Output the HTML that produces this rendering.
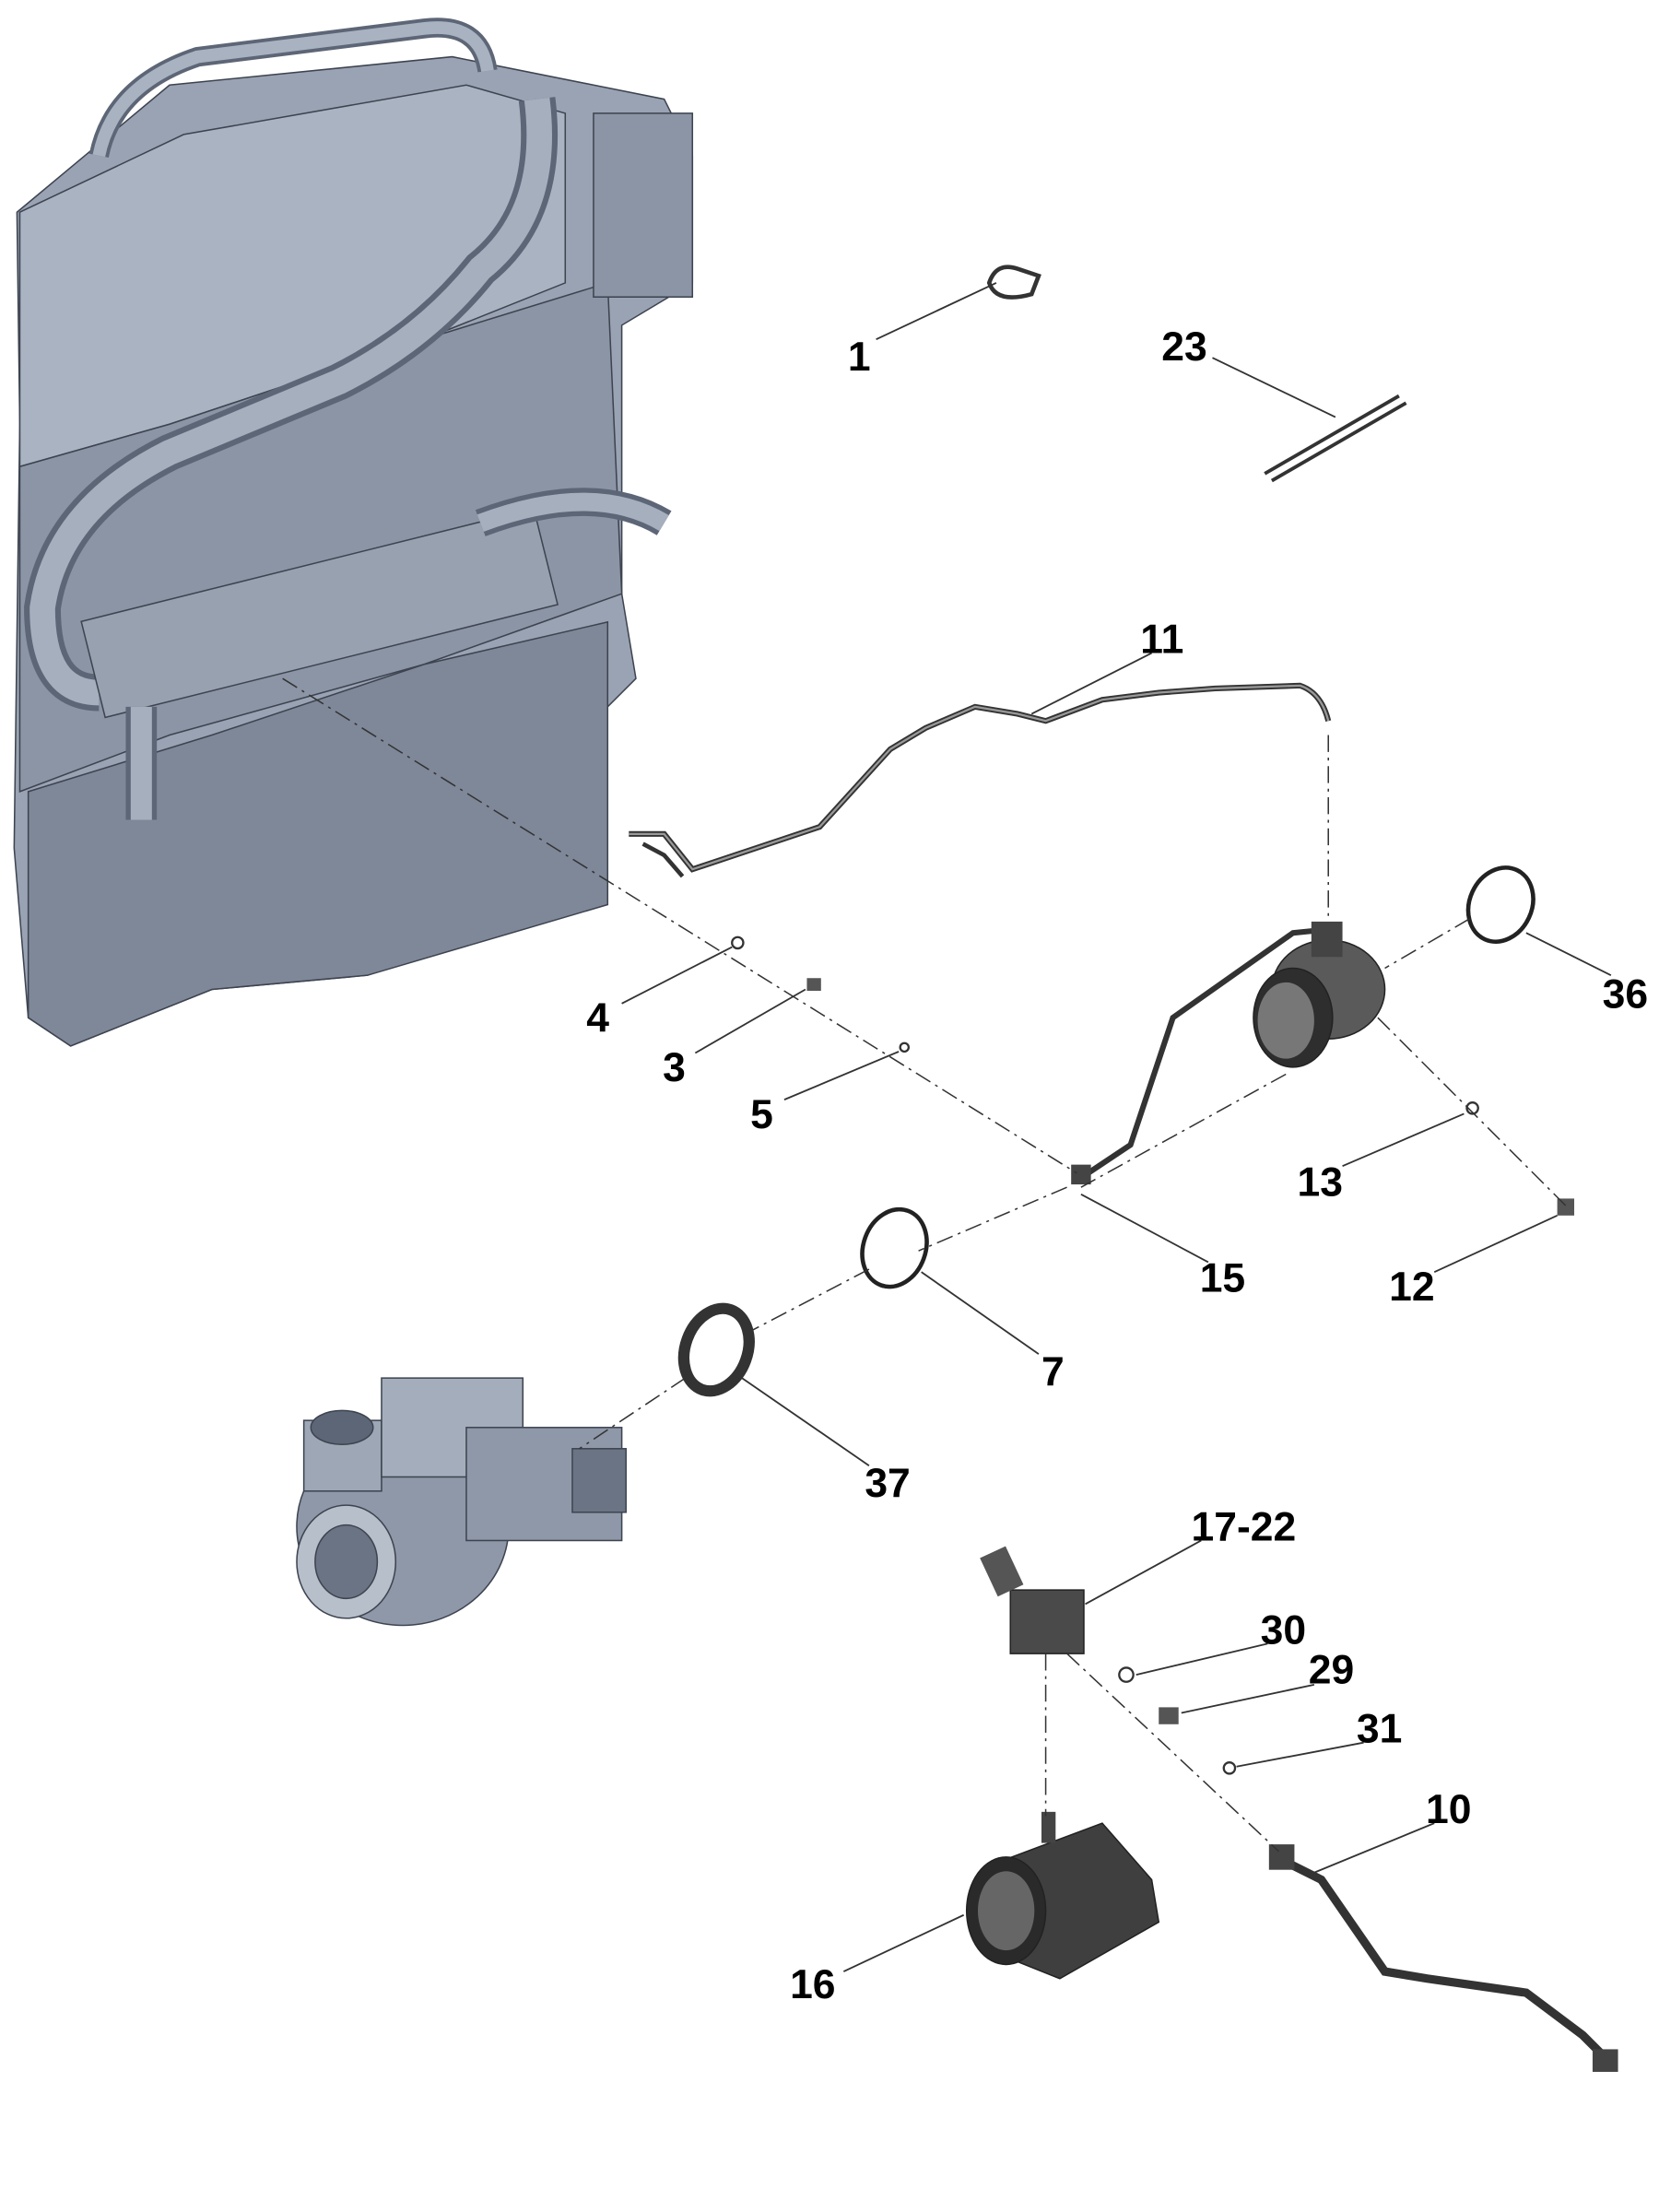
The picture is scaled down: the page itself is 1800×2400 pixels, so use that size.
<!DOCTYPE html>
<html><head><meta charset="utf-8"><style>
html,body{margin:0;padding:0;background:#fff}
svg{display:block}
text{font-family:"Liberation Sans",sans-serif;font-weight:bold;font-size:29px;fill:#000}
</style></head><body>
<svg width="1800" height="2400" viewBox="0 0 1174 1565" xmlns="http://www.w3.org/2000/svg">
<!-- engine block -->
<g stroke="#3d4450" stroke-width="1">
<polygon points="12,150 60,110 120,60 320,40 420,60 470,70 490,110 490,200 440,230 440,420 450,480 430,500 420,640 380,650 260,690 150,700 50,740 20,720 10,600 14,300" fill="#9aa3b3"/>
<polygon points="14,150 130,95 330,60 400,80 400,200 300,240 120,300 14,330" fill="#aab3c2"/>
<polygon points="14,330 120,300 300,240 430,200 440,420 300,470 120,520 14,560" fill="#8c95a6"/>
<polygon points="20,560 150,520 300,470 430,440 430,640 260,690 150,700 50,740 20,720" fill="#7f8899"/>
<path d="M70,110 Q80,60 140,40 L300,20 Q340,15 345,50" fill="none" stroke="#5d6676" stroke-width="14"/>
<path d="M70,110 Q80,60 140,40 L300,20 Q340,15 345,50" fill="none" stroke="#a9b2c0" stroke-width="9"/>
<path d="M380,70 Q390,150 340,190 Q300,240 240,270 L120,320 Q40,360 30,430 Q30,490 70,490" fill="none" stroke="#5d6676" stroke-width="26"/>
<path d="M380,70 Q390,150 340,190 Q300,240 240,270 L120,320 Q40,360 30,430 Q30,490 70,490" fill="none" stroke="#a6afbe" stroke-width="18"/>
<rect x="60" y="400" width="330" height="70" fill="#98a1b0" transform="rotate(-14 220 430)"/>
<path d="M340,370 Q420,340 470,370" fill="none" stroke="#5d6676" stroke-width="20"/>
<path d="M340,370 Q420,340 470,370" fill="none" stroke="#a6afbe" stroke-width="13"/>
<path d="M100,500 L100,580" stroke="#5d6676" stroke-width="22"/>
<path d="M100,500 L100,580" stroke="#a6afbe" stroke-width="15"/>
<rect x="420" y="80" width="70" height="130" fill="#8c95a6"/>
</g>
<!-- turbo -->
<g stroke="#3d4450" stroke-width="1">
<ellipse cx="285" cy="1080" rx="75" ry="70" fill="#8f98a8"/>
<ellipse cx="245" cy="1105" rx="35" ry="40" fill="#b7bfcb"/>
<ellipse cx="245" cy="1105" rx="22" ry="26" fill="#6b7484"/>
<rect x="215" y="1005" width="55" height="50" fill="#9ea7b6"/>
<ellipse cx="242" cy="1010" rx="22" ry="12" fill="#5d6676"/>
<rect x="270" y="975" width="100" height="70" fill="#a4adbb"/>
<rect x="330" y="1010" width="110" height="80" fill="#8f98a8"/>
<rect x="405" y="1025" width="38" height="45" fill="#6b7484"/>
</g>
<!-- part 1 -->
<path d="M700,200 Q705,185 720,190 L735,195 L730,208 Q705,215 700,200Z" fill="none" stroke="#333" stroke-width="3"/>
<!-- 23 -->
<path d="M895,335 L990,280 M900,340 L995,285" stroke="#333" stroke-width="2.5"/>
<!-- 11 pipe -->
<path d="M445,590 L470,590 L490,615 L550,595 L580,585 L630,530 L655,515 L690,500 L720,505 L740,510 L780,495 L820,490 L860,487 L920,485 Q935,490 940,510" fill="none" stroke="#333" stroke-width="4"/>
<path d="M445,590 L470,590 L490,615 L550,595 L580,585 L630,530 L655,515 L690,500 L720,505 L740,510 L780,495 L820,490 L860,487 L920,485 Q935,490 940,510" fill="none" stroke="#999" stroke-width="1.5"/>
<path d="M455,597 L470,605 L483,620" fill="none" stroke="#333" stroke-width="3"/>
<!-- part near 13 assembly -->
<path d="M770,830 L800,810 L830,720 L915,660 L935,658" fill="none" stroke="#333" stroke-width="4"/>
<rect x="758" y="824" width="14" height="14" fill="#444"/>
<ellipse cx="940" cy="700" rx="40" ry="35" fill="#5a5a5a" stroke="#222"/>
<ellipse cx="915" cy="720" rx="28" ry="35" fill="#2e2e2e" stroke="#222"/>
<ellipse cx="910" cy="722" rx="20" ry="27" fill="#777"/>
<rect x="928" y="652" width="22" height="25" fill="#444"/>
<!-- ring 36 -->
<ellipse cx="1062" cy="640" rx="22" ry="27" transform="rotate(25 1062 640)" fill="none" stroke="#222" stroke-width="3"/>
<!-- ring 7 -->
<ellipse cx="633" cy="883" rx="22" ry="28" transform="rotate(20 633 883)" fill="none" stroke="#222" stroke-width="3"/>
<!-- clamp 37 -->
<ellipse cx="507" cy="955" rx="22" ry="30" transform="rotate(20 507 955)" fill="none" stroke="#333" stroke-width="8"/>
<!-- small parts -->
<circle cx="522" cy="667" r="4" fill="none" stroke="#333" stroke-width="1.5"/>
<rect x="571" y="692" width="10" height="9" fill="#555"/>
<circle cx="640" cy="741" r="3" fill="none" stroke="#333" stroke-width="1.5"/>
<circle cx="1042" cy="784" r="4" fill="none" stroke="#333" stroke-width="1.5"/>
<rect x="1102" y="848" width="12" height="12" fill="#555"/>
<circle cx="797" cy="1185" r="5" fill="none" stroke="#333" stroke-width="1.5"/>
<rect x="820" y="1208" width="14" height="12" fill="#555"/>
<circle cx="870" cy="1251" r="4" fill="none" stroke="#333" stroke-width="1.5"/>
<!-- 17-22 -->
<rect x="715" y="1125" width="52" height="45" fill="#4a4a4a" stroke="#222"/>
<rect x="698" y="1097" width="20" height="30" fill="#555" transform="rotate(-25 708 1110)"/>
<!-- 16 -->
<path d="M700,1320 L780,1290 L815,1330 L820,1360 L750,1400 L700,1380Z" fill="#3f3f3f" stroke="#222"/>
<ellipse cx="712" cy="1352" rx="28" ry="38" fill="#2a2a2a" stroke="#222"/>
<ellipse cx="712" cy="1352" rx="20" ry="28" fill="#666"/>
<rect x="737" y="1282" width="10" height="22" fill="#444"/>
<!-- 10 -->
<path d="M905,1315 L935,1330 L980,1395 L1010,1400 L1080,1410 L1120,1440 L1135,1455" fill="none" stroke="#333" stroke-width="6"/>
<rect x="898" y="1305" width="18" height="18" fill="#444"/>
<rect x="1127" y="1450" width="18" height="16" fill="#444"/>
<!-- dashed lines -->
<g stroke="#333" stroke-width="1" fill="none" stroke-dasharray="12,4,2,4">
<path d="M200,480 L762,830"/>
<path d="M940,520 L940,652"/>
<path d="M1040,650 L980,685"/>
<path d="M975,720 L1110,855"/>
<path d="M910,760 L765,840"/>
<path d="M755,840 L650,885"/>
<path d="M615,898 L525,945"/>
<path d="M485,975 L410,1025"/>
<path d="M740,1170 L740,1285"/>
<path d="M755,1170 L905,1310"/>
</g>
<!-- leader lines -->
<g stroke="#333" stroke-width="1.2">
<line x1="620" y1="240" x2="705" y2="200"/>
<line x1="858" y1="253" x2="945" y2="295"/>
<line x1="815" y1="462" x2="730" y2="505"/>
<line x1="1140" y1="690" x2="1080" y2="660"/>
<line x1="440" y1="710" x2="518" y2="670"/>
<line x1="492" y1="745" x2="570" y2="700"/>
<line x1="555" y1="778" x2="636" y2="744"/>
<line x1="950" y1="825" x2="1036" y2="788"/>
<line x1="855" y1="893" x2="765" y2="845"/>
<line x1="1015" y1="900" x2="1102" y2="860"/>
<line x1="735" y1="958" x2="652" y2="900"/>
<line x1="615" y1="1037" x2="525" y2="975"/>
<line x1="850" y1="1090" x2="768" y2="1135"/>
<line x1="897" y1="1163" x2="804" y2="1185"/>
<line x1="930" y1="1192" x2="836" y2="1212"/>
<line x1="965" y1="1233" x2="875" y2="1250"/>
<line x1="1015" y1="1290" x2="930" y2="1325"/>
<line x1="597" y1="1395" x2="682" y2="1355"/>
</g>
<text x="600" y="262">1</text>
<text x="822" y="255">23</text>
<text x="807" y="462">11</text>
<text x="1134" y="713">36</text>
<text x="415" y="730">4</text>
<text x="469" y="765">3</text>
<text x="531" y="798">5</text>
<text x="918" y="846">13</text>
<text x="849" y="914">15</text>
<text x="983" y="920">12</text>
<text x="737" y="980">7</text>
<text x="612" y="1059">37</text>
<text x="843" y="1090">17-22</text>
<text x="892" y="1163">30</text>
<text x="926" y="1191">29</text>
<text x="960" y="1233">31</text>
<text x="1009" y="1290">10</text>
<text x="559" y="1414">16</text>
</svg>
</body></html>
